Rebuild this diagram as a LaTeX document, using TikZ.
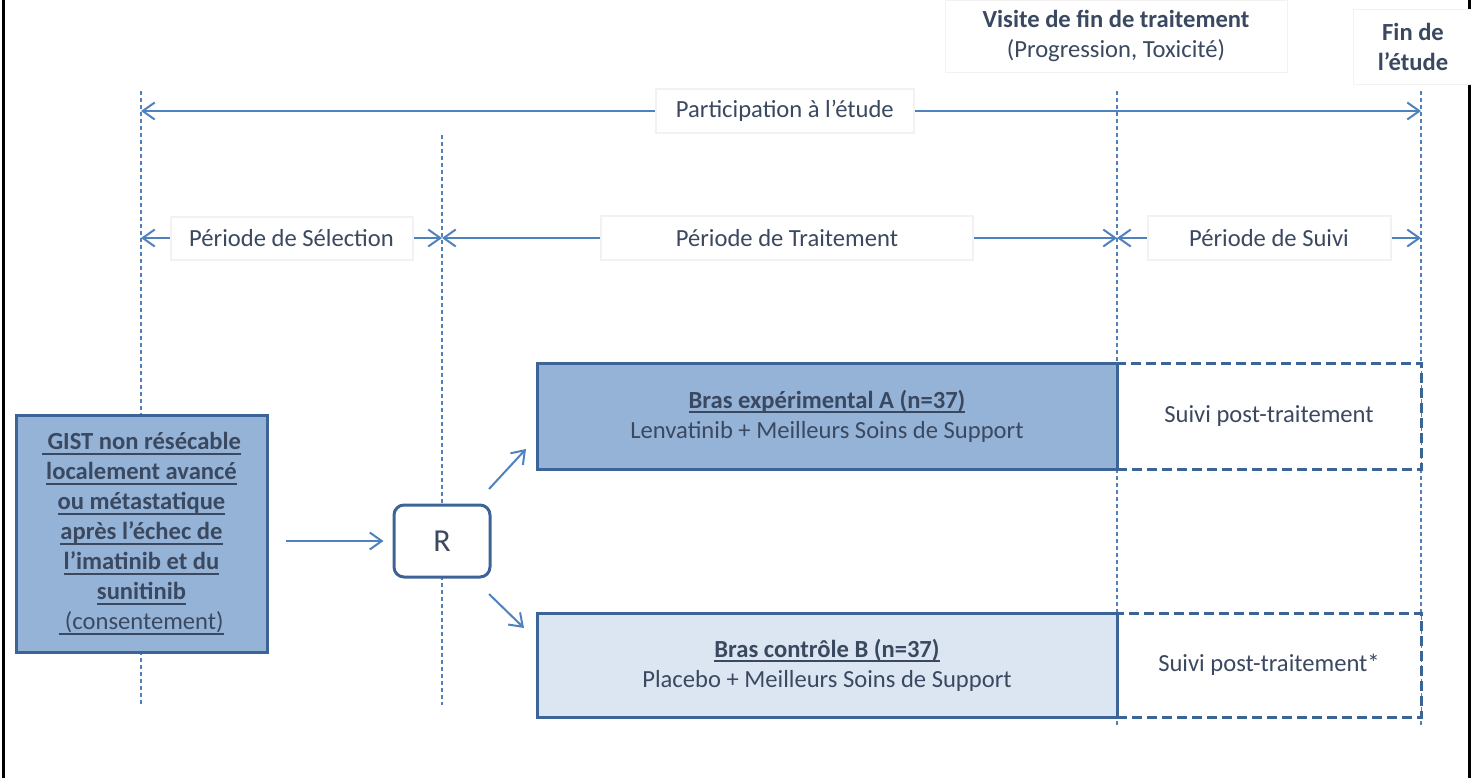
\documentclass[tikz,border=0pt]{standalone}
\usepackage{fontspec}
\setmainfont{Carlito}
\usetikzlibrary{arrows.meta}

\newsavebox{\undlbox}
\newcommand{\undl}[1]{\sbox{\undlbox}{#1}\rlap{\usebox{\undlbox}}\rule[-2.4pt]{\wd\undlbox}{0.8pt}}

\definecolor{txtgray}{HTML}{3A4860}
\definecolor{lineblue}{HTML}{4F81BD}
\definecolor{boxblue}{HTML}{3D6496}
\definecolor{armfill}{HTML}{95B3D7}
\definecolor{ctrlfill}{HTML}{DCE6F2}

\tikzset{
	guide/.style={lineblue, line width=1.2pt, dash pattern=on 2pt off 1.5pt},
	span/.style={lineblue, line width=1pt, {Straight Barb[length=6pt,width=8.5pt]}-{Straight Barb[length=6pt,width=8.5pt]}},
	flow/.style={lineblue, line width=1pt, -{Straight Barb[length=6pt,width=8.5pt]}},
	tag/.style={fill=white, draw=black!5, text=txtgray, inner sep=0pt, align=center},
	armbox/.style={draw=boxblue, line width=1.5pt, text=txtgray, align=center, inner sep=0pt},
	suivibox/.style={armbox, fill=white, dash pattern=on 5pt off 2.5pt},
}

\begin{document}
\begin{tikzpicture}[x=0.5pt, y=-0.5pt, font=\fontsize{12.3}{15}\selectfont]
	\useasboundingbox (0,0) rectangle (1473,778);
	% cadre
	\draw[line width=1.5pt] (3.5,0) -- (3.5,778);
	\draw[line width=1.5pt] (1469.5,0) -- (1469.5,778);
	%
	% lignes des jalons
	\coordinate (jS0) at (141,91);   \coordinate (jS1) at (141,705);
	\coordinate (jR0) at (442,135);  \coordinate (jR1) at (442,705);
	\coordinate (jT0) at (1117,91);  \coordinate (jT1) at (1117,728);
	\coordinate (jF0) at (1421,91);  \coordinate (jF1) at (1421,728);
	\draw[guide] (jS0) -- (jS1);
	\draw[guide] (jR0) -- (jR1);
	\draw[guide] (jT0) -- (jT1);
	\draw[guide] (jF0) -- (jF1);
	%
	% periodes
	\coordinate (pS) at (141,111);  \coordinate (pF) at (1421,111);
	\coordinate (qS) at (141,238);  \coordinate (qR) at (442,238);
	\coordinate (qT) at (1117,238); \coordinate (qF) at (1421,238);
	\draw[span] (pS) -- node[tag, pos=0.503, minimum width=129pt, minimum height=22pt] (partic) {Participation à l’étude} (pF);
	\draw[span] (qS) -- node[tag, minimum width=121pt, minimum height=21.5pt] (selec) {Période de Sélection} (qR);
	\draw[span] (qR) -- node[tag, pos=0.511, minimum width=186pt, minimum height=22pt] (trait) {Période de Traitement} (qT);
	\draw[span] (qT) -- node[tag, minimum width=121.5pt, minimum height=22pt] (suiv) {Période de Suivi} (qF);
	%
	% bras
	\node[suivibox, minimum width=152pt, minimum height=53pt] (suiviA) at (1269,416) {Suivi post-traitement};
	\node[suivibox, minimum width=152pt, minimum height=52pt] (suiviB) at (1269,665) {Suivi post-traitement*};
	\node[armbox, fill=armfill, minimum width=290pt, minimum height=53pt] (armA) at (827,416)
		{\textbf{\undl{Bras expérimental A (n=37)}}\\Lenvatinib + Meilleurs Soins de Support};
	\node[armbox, fill=ctrlfill, minimum width=290pt, minimum height=52pt] (armB) at (827,665)
		{\textbf{\undl{Bras contrôle B (n=37)}}\\Placebo + Meilleurs Soins de Support};
	%
	\node[armbox, fill=armfill, minimum width=125.5pt, minimum height=118.5pt] (gist) at (141.5,533.5)
		{\textbf{\undl{\ GIST non résécable}}\\\textbf{\undl{localement avancé}}\\\textbf{\undl{ou métastatique}}\\
		\textbf{\undl{après l’échec de}}\\\textbf{\undl{l’imatinib et du}}\\\textbf{\undl{sunitinib}}\\\undl{\ (consentement)}};
	\node[armbox, fill=white, rounded corners=5pt, minimum width=48pt, minimum height=36pt,
		font=\fontsize{16}{18}\selectfont] (rando) at (442,541) {R};
	%
	\draw[flow, shorten <=8.5pt, shorten >=4.5pt] (gist.east |- rando.west) -- (rando.west);
	\coordinate (hA0) at (489,489); \coordinate (hA1) at (526,449);
	\coordinate (hB0) at (489,594); \coordinate (hB1) at (524,628);
	\draw[flow] (hA0) -- (hA1);
	\draw[flow] (hB0) -- (hB1);
	%
	% visite et fin
	\node[tag, minimum width=171pt, minimum height=36pt] (visite) at (1116,36)
		{\textbf{Visite de fin de traitement}\\(Progression, Toxicité)};
	\node[tag, font=\fontsize{12.3}{15}\selectfont\bfseries, minimum width=60pt, minimum height=37.5pt] (fin) at (1413,47)
		{Fin de\\l’étude};
\end{tikzpicture}
\end{document}
